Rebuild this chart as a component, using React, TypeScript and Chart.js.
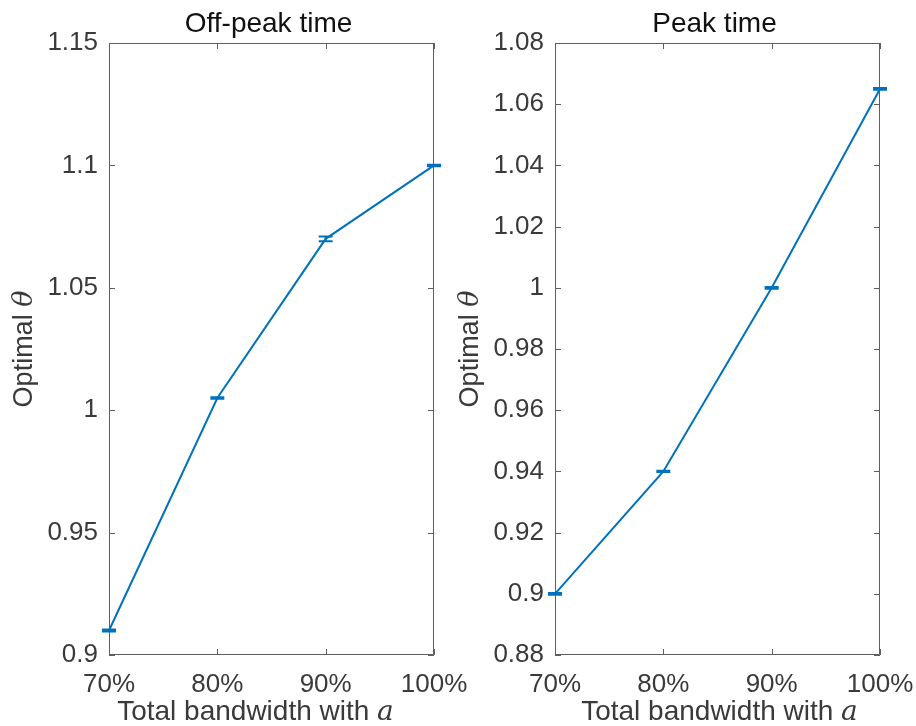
import React, { useEffect, useRef } from 'react';
import { Chart, registerables } from 'chart.js';

Chart.register(...registerables);

// Share of total bandwidth (x categories)
const bandwidthLabels = ['70%', '80%', '90%', '100%'];

// Off-peak time: optimal theta and half-width of its error bar
const offPeakTheta = [0.91, 1.005, 1.07, 1.1];
const offPeakError = [0.0004, 0.0003, 0.001, 0.0003];
const offPeakRange = [0.9, 1.15];
const offPeakStep = 0.05;

// Peak time: optimal theta and half-width of its error bar
const peakTheta = [0.9, 0.94, 1.0, 1.065];
const peakError = [0.0003, 0.0002, 0.0003, 0.0003];
const peakRange = [0.88, 1.08];
const peakStep = 0.02;

const LINE_BLUE = '#0072BD';
const AXIS_GRAY = '#5f5f5f';
const TEXT_GRAY = '#3a3a3a';
const SANS = '"Liberation Sans", Arial, Helvetica, sans-serif';
const MATH = '"DejaVu Serif", "Liberation Serif", serif';

const CANVAS_W = 470;
const CANVAS_H = 726;

type PanelSpec = {
  title: string;
  values: number[];
  errors: number[];
  range: number[];
  step: number;
  xTitleShift: number;
};

function makeDecorations(spec: PanelSpec) {
  return {
    id: 'panelDecorations',
    beforeDatasetsDraw(chart: any) {
      const { ctx, chartArea: a, scales } = chart;
      const x = scales.x;
      const y = scales.y;
      const tick = 6;
      ctx.save();
      ctx.strokeStyle = AXIS_GRAY;
      ctx.lineWidth = 1;
      ctx.beginPath();
      ctx.rect(a.left + 0.5, a.top + 0.5, a.right - a.left - 1, a.bottom - a.top - 1);
      // inward ticks on all four sides
      y.ticks.forEach((t: any) => {
        const py = Math.round(y.getPixelForValue(t.value)) + 0.5;
        ctx.moveTo(a.left, py);
        ctx.lineTo(a.left + tick, py);
        ctx.moveTo(a.right, py);
        ctx.lineTo(a.right - tick, py);
      });
      x.ticks.forEach((_t: any, i: number) => {
        const px = Math.round(x.getPixelForTick(i)) + 0.5;
        ctx.moveTo(px, a.bottom);
        ctx.lineTo(px, a.bottom - tick);
        ctx.moveTo(px, a.top);
        ctx.lineTo(px, a.top + tick);
      });
      ctx.stroke();
      ctx.restore();
    },
    afterDatasetsDraw(chart: any) {
      const { ctx, chartArea: a, scales } = chart;
      const x = scales.x;
      const y = scales.y;
      ctx.save();
      // error bars
      ctx.strokeStyle = LINE_BLUE;
      ctx.lineWidth = 2;
      const half = 7;
      spec.values.forEach((v, i) => {
        const px = x.getPixelForValue(i);
        const lo = y.getPixelForValue(v - spec.errors[i]);
        const hi = y.getPixelForValue(v + spec.errors[i]);
        ctx.beginPath();
        ctx.moveTo(px, lo);
        ctx.lineTo(px, hi);
        ctx.moveTo(px - half, lo);
        ctx.lineTo(px + half, lo);
        ctx.moveTo(px - half, hi);
        ctx.lineTo(px + half, hi);
        ctx.stroke();
      });

      const cx = (a.left + a.right) / 2;
      const cy = (a.top + a.bottom) / 2;

      // panel title
      ctx.fillStyle = '#111111';
      ctx.font = `28px ${SANS}`;
      ctx.textAlign = 'center';
      ctx.textBaseline = 'alphabetic';
      ctx.fillText(spec.title, cx - 3, 32);

      // x-axis title with italic math symbol
      ctx.fillStyle = TEXT_GRAY;
      ctx.textAlign = 'left';
      const xText = 'Total bandwidth with ';
      ctx.font = `28px ${SANS}`;
      const w1 = ctx.measureText(xText).width;
      ctx.font = `italic 28px ${MATH}`;
      const w2 = ctx.measureText('a').width;
      let sx = cx + spec.xTitleShift - (w1 + w2) / 2;
      ctx.font = `28px ${SANS}`;
      ctx.fillText(xText, sx, 720);
      ctx.font = `italic 28px ${MATH}`;
      ctx.fillText('a', sx + w1, 720);

      // y-axis title with italic theta
      ctx.save();
      ctx.translate(32, cy);
      ctx.rotate(-Math.PI / 2);
      const yText = 'Optimal ';
      ctx.font = `27px ${SANS}`;
      const v1 = ctx.measureText(yText).width;
      ctx.font = `italic 27px ${MATH}`;
      const v2 = ctx.measureText('\u03b8').width;
      sx = -(v1 + v2) / 2;
      ctx.font = `27px ${SANS}`;
      ctx.fillText(yText, sx, 0);
      ctx.font = `italic 27px ${MATH}`;
      ctx.fillText('\u03b8', sx + v1, 0);
      ctx.restore();

      ctx.restore();
    },
  };
}

function Panel({ spec, left }: { spec: PanelSpec; left: number }) {
  const ref = useRef<HTMLCanvasElement | null>(null);

  useEffect(() => {
    if (!ref.current) return;
    const chart = new Chart(ref.current, {
      type: 'line',
      data: {
        labels: bandwidthLabels,
        datasets: [
          {
            data: spec.values,
            borderColor: LINE_BLUE,
            borderWidth: 2,
            pointRadius: 0,
            tension: 0,
            fill: false,
          },
        ],
      },
      options: {
        animation: false,
        responsive: false,
        maintainAspectRatio: false,
        layout: { padding: { top: 43, right: 36, left: 0, bottom: 0 } },
        plugins: {
          legend: { display: false },
          title: { display: false },
          tooltip: { enabled: false },
        },
        scales: {
          x: {
            type: 'category',
            offset: false,
            grid: { display: false, drawTicks: false },
            border: { display: false },
            ticks: {
              color: TEXT_GRAY,
              font: { family: SANS, size: 26 },
              padding: 14,
              maxRotation: 0,
              autoSkip: false,
            },
            afterFit: (s: any) => {
              s.height = 71;
              s.paddingLeft = 0;
              s.paddingRight = 0;
            },
          },
          y: {
            min: spec.range[0],
            max: spec.range[1],
            grid: { display: false, drawTicks: false },
            border: { display: false },
            ticks: {
              stepSize: spec.step,
              color: TEXT_GRAY,
              font: { family: SANS, size: 26 },
              padding: 11,
              callback: (v: any) => String(Math.round(Number(v) * 1000) / 1000),
            },
            afterFit: (s: any) => {
              s.width = 109;
              s.paddingTop = 0;
              s.paddingBottom = 0;
            },
          },
        },
      },
      plugins: [makeDecorations(spec)],
    });
    return () => chart.destroy();
  }, [spec]);

  return (
    <canvas
      ref={ref}
      width={CANVAS_W}
      height={CANVAS_H}
      style={{ position: 'absolute', left, top: 0, width: CANVAS_W, height: CANVAS_H }}
    />
  );
}

const offPeakSpec: PanelSpec = {
  title: 'Off-peak time',
  values: offPeakTheta,
  errors: offPeakError,
  range: offPeakRange,
  step: offPeakStep,
  xTitleShift: -16,
};

const peakSpec: PanelSpec = {
  title: 'Peak time',
  values: peakTheta,
  errors: peakError,
  range: peakRange,
  step: peakStep,
  xTitleShift: 2,
};

export default function App() {
  return (
    <div
      style={{
        position: 'fixed',
        left: 0,
        top: 0,
        width: 916,
        height: 726,
        background: '#ffffff',
        overflow: 'hidden',
      }}
    >
      <Panel spec={offPeakSpec} left={0} />
      <Panel spec={peakSpec} left={446} />
    </div>
  );
}
